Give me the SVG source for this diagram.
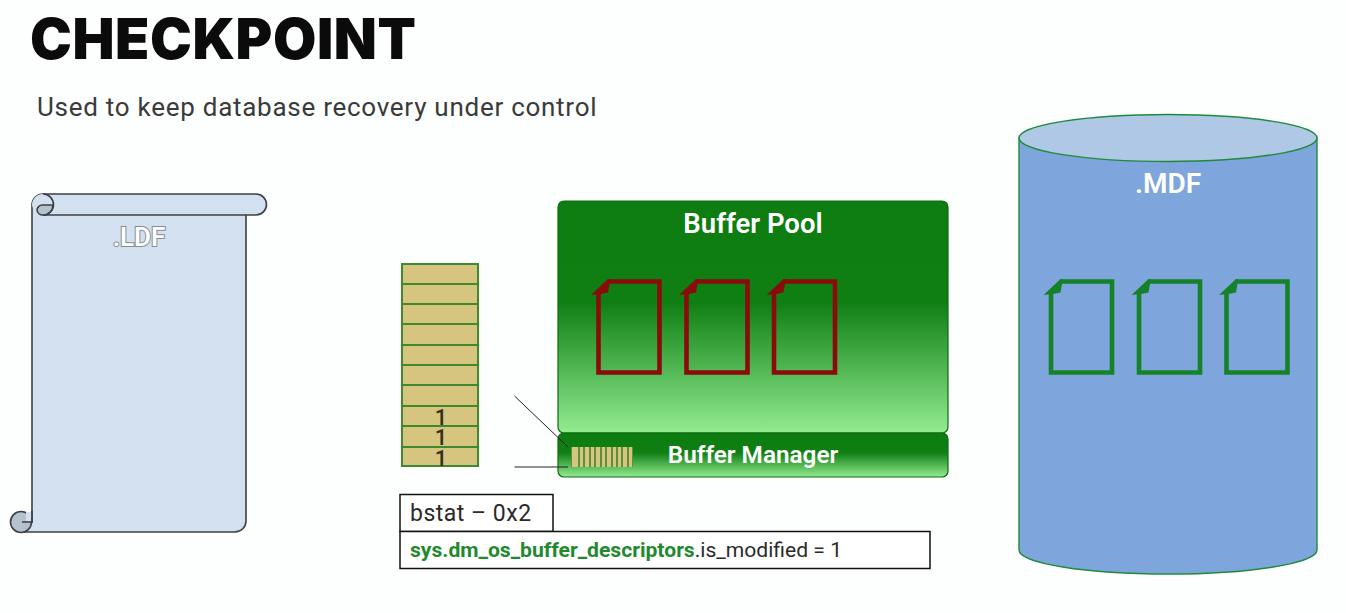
<svg xmlns="http://www.w3.org/2000/svg" width="1346" height="613" viewBox="0 0 1346 613">
<style>
text{font-family:Roboto,"Liberation Sans",sans-serif}
.scroll{fill:#d2e0f0;stroke:#3c4043;stroke-width:1.6}
.curl{fill:#b4c2cf;stroke:#3c4043;stroke-width:1.6}
.row{fill:#d6c57e;stroke:#3f8a2e;stroke-width:2}
.one{font-size:22px;font-weight:500;fill:#33301c;text-anchor:middle}
.box{fill:#fff;stroke:#111;stroke-width:1.5}
.wh{fill:#fff;font-weight:700;text-anchor:middle}
.doc-r{fill:none;stroke:#8a0b0b;stroke-width:4.6}
.tip-r{fill:#8a0b0b}
.doc-g{fill:none;stroke:#15822a;stroke-width:4.6}
.tip-g{fill:#15822a}
.tick{fill:#d6c57e}
</style>
<defs>
<linearGradient id="bp" x1="0" y1="0" x2="0" y2="1">
<stop offset="0" stop-color="#0d7d12"/><stop offset=".44" stop-color="#0f7f14"/><stop offset="1" stop-color="#93ec90"/>
</linearGradient>
<linearGradient id="bm" x1="0" y1="0" x2="0" y2="1">
<stop offset="0" stop-color="#0d7d12"/><stop offset=".45" stop-color="#0f7f14"/><stop offset="1" stop-color="#93ec90"/>
</linearGradient>
<g id="doc-red">
<path class="doc-r" d="M0 12V91H61V0H9"/>
<path class="tip-r" d="M-7.500 13.500L9.500 -2.500H12L9.500 11L2 12.500Z"/>
</g>
<g id="doc-green">
<path class="doc-g" d="M0 12V91H61V0H9"/>
<path class="tip-g" d="M-7.500 13.500L9.500 -2.500H12L9.500 11L2 12.500Z"/>
</g>
</defs>
<rect width="1346" height="613" fill="#fdfefe"/>
<g id="title">
<text x="30" y="59" font-size="56" font-weight="900" fill="#0b0b0b" style="font-family:Inter,Roboto,sans-serif;letter-spacing:.6px">CHECKPOINT</text>
<text x="37" y="116" font-size="26" fill="#3a3a3a" style="letter-spacing:.73px">Used to keep database recovery under control</text>
</g>
<g id="ldf">
<path class="scroll" d="M32 205A11 11 0 0 1 43 194H256A10.500 10.500 0 0 1 256 215H246V521A11 11 0 0 1 235 532H21V522H32Z"/>
<path class="scroll" style="fill:none" d="M43 215H246"/>
<path class="scroll" d="M43 194A10.500 10.500 0 0 1 43 215A11 11 0 0 1 32 205A11 11 0 0 1 43 194Z" style="stroke:none"/>
<path class="scroll" style="fill:none" d="M43 194A10.500 10.500 0 0 1 43 215"/>
<path class="curl" d="M53 205A10 10 0 0 1 43 215A6 5.500 0 0 1 37 210A5.500 5 0 0 1 43 205Z"/>
<circle class="curl" cx="21" cy="522" r="10.500"/>
<path fill="#d2e0f0" d="M26 512H31.200V521.200H26Z"/>
<path fill="none" stroke="#3c4043" stroke-width="1.600" d="M32 511V522H22"/>
<text x="139" y="246" font-size="26" font-weight="600" fill="#fff" stroke="#858b93" stroke-width="2" text-anchor="middle" paint-order="stroke">.LDF</text>
</g>
<g id="stack">
<rect class="row" x="402" y="264" width="76" height="20"/>
<rect class="row" x="402" y="284" width="76" height="20"/>
<rect class="row" x="402" y="304" width="76" height="20"/>
<rect class="row" x="402" y="324" width="76" height="21"/>
<rect class="row" x="402" y="345" width="76" height="20"/>
<rect class="row" x="402" y="365" width="76" height="20"/>
<rect class="row" x="402" y="385" width="76" height="21"/>
<rect class="row" x="402" y="406" width="76" height="20"/>
<rect class="row" x="402" y="426" width="76" height="21"/>
<rect class="row" x="402" y="447" width="76" height="19"/>
<text class="one" x="441" y="425">1</text>
<text class="one" x="441" y="445">1</text>
<text class="one" x="441" y="466">1</text>
</g>
<g id="buffer-pool">
<rect x="558" y="201" width="390" height="232" rx="6" fill="url(#bp)" stroke="#0c6b10" stroke-width="1.200"/>
<text class="wh" x="753" y="233" font-size="27.500" style="font-weight:600">Buffer Pool</text>
<use href="#doc-red" x="598.500" y="281.500"/>
<use href="#doc-red" x="686.500" y="281.500"/>
<use href="#doc-red" x="774" y="281.500"/>
</g>
<g id="buffer-manager">
<rect x="558" y="433" width="390" height="44" rx="6" fill="url(#bm)" stroke="#0c6b10" stroke-width="1.200"/>
<text class="wh" x="753" y="463" font-size="24.300" style="font-weight:600">Buffer Manager</text>
<g id="bitmap">
<rect x="571" y="447" width="62" height="20" fill="#5e8f3a"/>
<rect class="tick" x="572" y="447" width="6" height="20"/>
<rect class="tick" x="580" y="447" width="3" height="20"/>
<rect class="tick" x="585" y="447" width="4" height="20"/>
<rect class="tick" x="591" y="447" width="3" height="20"/>
<rect class="tick" x="596" y="447" width="4" height="20"/>
<rect class="tick" x="602" y="447" width="3" height="20"/>
<rect class="tick" x="607" y="447" width="4" height="20"/>
<rect class="tick" x="613" y="447" width="3" height="20"/>
<rect class="tick" x="618" y="447" width="3" height="20"/>
<rect class="tick" x="623" y="447" width="4" height="20"/>
<rect class="tick" x="629" y="447" width="3" height="20"/>
</g>
</g>
<g id="connectors" fill="none" stroke="#222" stroke-width="1">
<path d="M514.500 396L568 447"/>
<path d="M514.500 467H568"/>
</g>
<g id="labels">
<rect class="box" x="400" y="494.500" width="153" height="37"/>
<rect class="box" x="400" y="531.500" width="530" height="37"/>
<text x="410" y="521" font-size="23" fill="#2a2a2a" style="letter-spacing:.5px">bstat – 0x2</text>
<text x="410" y="557" font-size="21.100" fill="#2a2a2a"><tspan font-weight="700" fill="#1f8a2e">sys.dm_os_buffer_descriptors</tspan>.is_modified = 1</text>
</g>
<g id="mdf">
<path d="M1019 138V550A149 24 0 0 0 1317 550V138Z" fill="#7ea6dc" stroke="#1f8a3a" stroke-width="1.400"/>
<ellipse cx="1168" cy="138" rx="149" ry="23.500" fill="#afc8e6" stroke="#1f8a3a" stroke-width="1.400"/>
<text class="wh" x="1168" y="193" font-size="28" style="font-weight:600">.MDF</text>
<use href="#doc-green" x="1051" y="281.500"/>
<use href="#doc-green" x="1139" y="281.500"/>
<use href="#doc-green" x="1226.500" y="281.500"/>
</g>
</svg>
